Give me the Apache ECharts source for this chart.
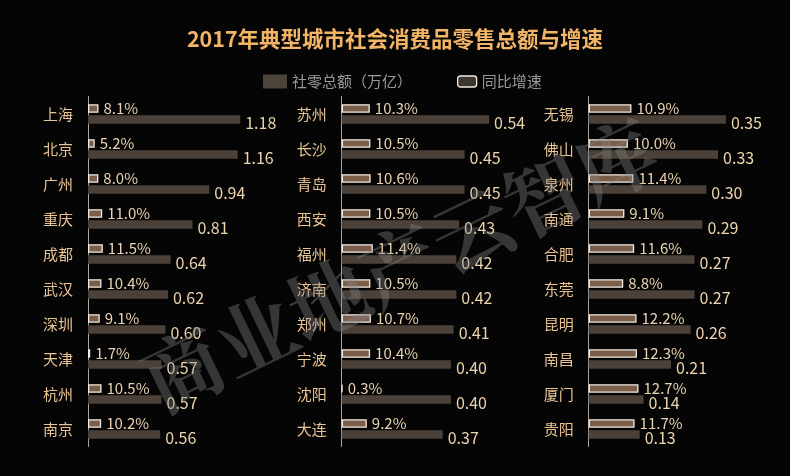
<!DOCTYPE html>
<html><head><meta charset="utf-8">
<script src="https://cdn.jsdelivr.net/npm/echarts@6/dist/echarts.min.js"></script>
<style>html,body{margin:0;padding:0;background:#060505;}#c{width:790px;height:476px;}</style>
</head><body><div id="c"></div>
<script>
var cities1 = ['上海','北京','广州','重庆','成都','武汉','深圳','天津','杭州','南京'];
var total1 = [1.18,1.16,0.94,0.81,0.64,0.62,0.60,0.57,0.57,0.56];
var growth1 = [8.1,5.2,8.0,11.0,11.5,10.4,9.1,1.7,10.5,10.2];
var cities2 = ['苏州','长沙','青岛','西安','福州','济南','郑州','宁波','沈阳','大连'];
var total2 = [0.54,0.45,0.45,0.43,0.42,0.42,0.41,0.40,0.40,0.37];
var growth2 = [10.3,10.5,10.6,10.5,11.4,10.5,10.7,10.4,0.3,9.2];
var cities3 = ['无锡','佛山','泉州','南通','合肥','东莞','昆明','南昌','厦门','贵阳'];
var total3 = [0.35,0.33,0.30,0.29,0.27,0.27,0.26,0.21,0.14,0.13];
var growth3 = [10.9,10.0,11.4,9.1,11.6,8.8,12.2,12.3,12.7,11.7];

var FONT = '"Noto Sans CJK SC", "Noto Sans", sans-serif';
var panels = [
  {cities: cities1, total: total1, growth: growth1, left: 88, width: 180.6, max: 1.4},
  {cities: cities2, total: total2, growth: growth2, left: 341.7, width: 163.8, max: 0.6},
  {cities: cities3, total: total3, growth: growth3, left: 588.7, width: 176.4, max: 0.45}
];
var grids = [], xAxes = [], yAxes = [], series = [];
panels.forEach(function (p, i) {
  grids.push({left: p.left, width: p.width, top: 96.5, height: 350});
  xAxes.push({type: 'value', gridIndex: i, min: 0, max: p.max, show: false});
  yAxes.push({type: 'category', gridIndex: i, data: p.cities, inverse: true,
    axisLine: {show: true, lineStyle: {color: '#a9a6a2', width: 1}},
    axisTick: {show: false},
    axisLabel: {color: '#e8c393', fontSize: 15, margin: 15, fontFamily: FONT},
    splitLine: {show: false}});
  series.push({
    name: '同比增速', type: 'bar', xAxisIndex: i, yAxisIndex: i,
    data: p.growth.map(function (g) { return g / 100; }),
    barWidth: 8.5, barGap: '30%',
    itemStyle: {color: '#7a5e49', borderColor: '#f3ece4', borderWidth: 1.3},
    label: {show: true, position: 'right', distance: 5, color: '#ead3b1', fontSize: 15, fontFamily: FONT,
      formatter: function (pr) { return (pr.value * 100).toFixed(1) + '%'; }}
  });
  series.push({
    name: '社零总额（万亿）', type: 'bar', xAxisIndex: i, yAxisIndex: i,
    data: p.total,
    barWidth: 8.5, barGap: '30%',
    itemStyle: {color: '#4b4139'},
    label: {show: true, position: 'right', distance: 5, offset: [0, 3], color: '#ecd4ae', fontSize: 16, fontFamily: FONT,
      formatter: function (pr) { return pr.value.toFixed(2); }}
  });
});

var chart = echarts.init(document.getElementById('c'));
chart.setOption({
  backgroundColor: '#060505',
  animation: false,
  title: {text: '2017年典型城市社会消费品零售总额与增速', left: 'center', top: 23,
    textStyle: {color: '#f2b466', fontSize: 21.5, fontWeight: 'bold', fontFamily: FONT}},
  legend: [
    {data: [{name: '社零总额（万亿）', icon: 'rect', itemStyle: {color: '#4d4439', borderWidth: 0}}],
     left: 258, top: 69, itemWidth: 24, itemHeight: 14, itemGap: 4,
     textStyle: {color: '#9c9996', fontSize: 15, fontFamily: FONT}},
    {data: [{name: '同比增速', icon: 'roundRect', itemStyle: {color: '#3e3630', borderColor: '#f3ece4', borderWidth: 1.3}}],
     left: 452, top: 69, itemWidth: 19, itemHeight: 11, itemGap: 4,
     textStyle: {color: '#9c9996', fontSize: 15, fontFamily: FONT}}
  ],
  grid: grids, xAxis: xAxes, yAxis: yAxes, series: series,
  graphic: [{
    type: 'text', z: 100,
    x: 400, y: 265, rotation: 0.45, silent: true,
    style: {text: '商业地产云智库', fill: 'rgba(135,135,135,0.38)', fontSize: 80,
      fontFamily: '"Noto Serif CJK SC", "Noto Sans CJK SC", serif', fontWeight: 'bold',
      textAlign: 'center', textVerticalAlign: 'middle'}
  }]
});
</script></body></html>
